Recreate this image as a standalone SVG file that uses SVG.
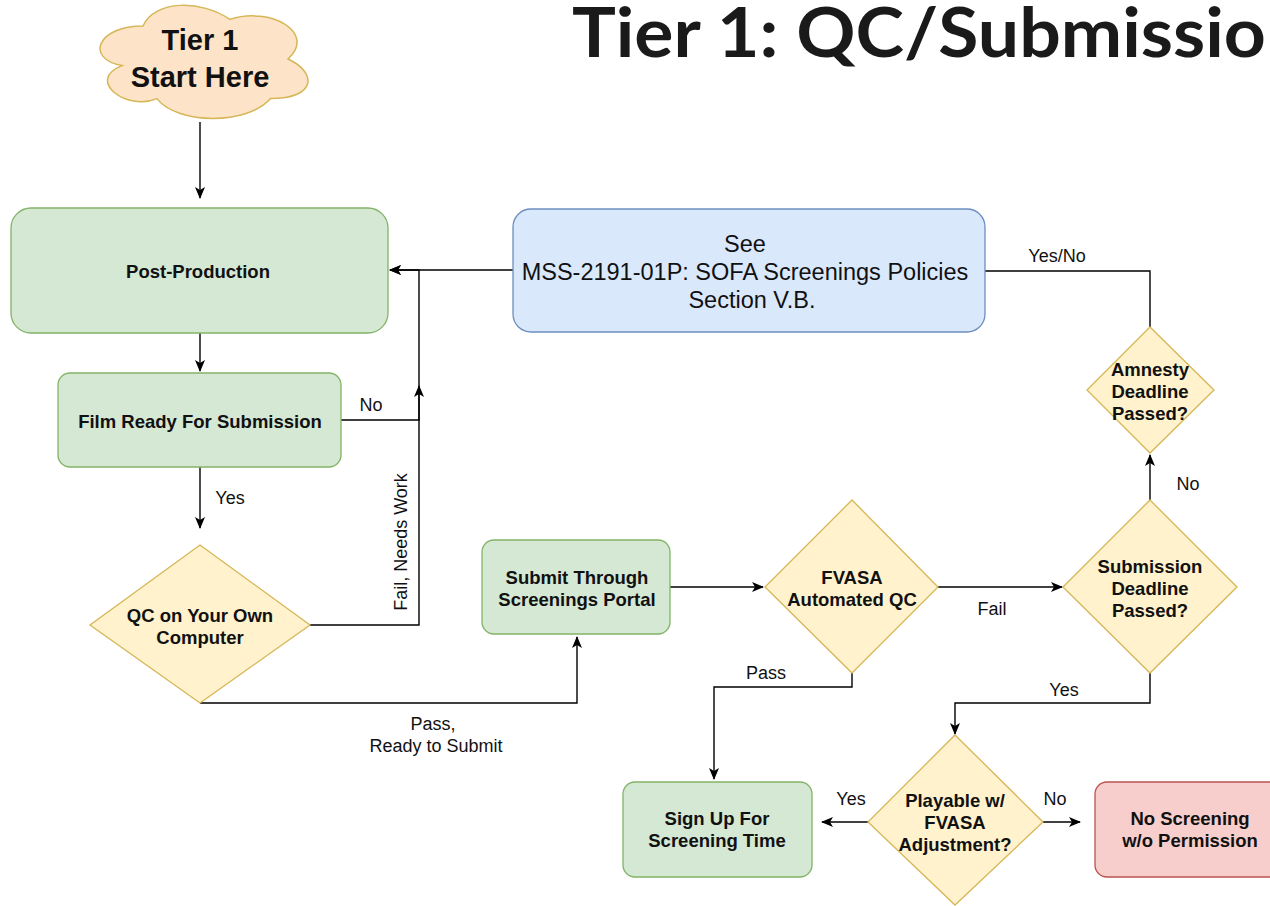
<svg xmlns="http://www.w3.org/2000/svg" width="1270" height="906" viewBox="0 0 1270 906">
<style>
.green{fill:#d5e8d4;stroke:#82b366;stroke-width:1.3}
.blue{fill:#dae8fc;stroke:#6c8ebf;stroke-width:1.3}
.red{fill:#f8cecc;stroke:#b85450;stroke-width:1.3}
.dia{fill:#fff2cc;stroke:#d6b656;stroke-width:1.3}
.cloud{fill:#fde4c8;stroke:#d6b656;stroke-width:1.5}
.t{font-family:"Liberation Sans",Arial,sans-serif;font-weight:bold;font-size:18.5px;fill:#111;text-anchor:middle;dominant-baseline:central}
.lbl{font-family:"Liberation Sans",Arial,sans-serif;font-size:18px;fill:#111;text-anchor:middle;dominant-baseline:central}
.c{fill:none;stroke:#000;stroke-width:1.4}
</style>
<defs>
<marker id="arr" markerWidth="13" markerHeight="13" refX="11" refY="6.5" orient="auto" markerUnits="userSpaceOnUse">
<path d="M0,1.5 L12,6.5 L0,11.5 L3,6.5 Z" fill="#000"/>
</marker>
</defs>
<text x="572" y="57" font-family="Lato,'Open Sans',sans-serif" font-weight="700" font-size="68" fill="#1a1a1a" textLength="694" lengthAdjust="spacingAndGlyphs">Tier 1: QC/Submissio</text>
<g id="connectors">
<path class="c" d="M200,122 V198" marker-end="url(#arr)"/>
<path class="c" d="M200,333 V371" marker-end="url(#arr)"/>
<path class="c" d="M200,467 V528" marker-end="url(#arr)"/>
<path class="c" d="M341,420 H419 V270 H390" marker-end="url(#arr)"/>
<path class="c" d="M513,270 H390" marker-end="url(#arr)"/>
<path class="c" d="M310,625 H419 V386" marker-end="url(#arr)"/>
<path class="c" d="M200,703 H577 V637" marker-end="url(#arr)"/>
<path class="c" d="M670,587 H763" marker-end="url(#arr)"/>
<path class="c" d="M938,587 H1062" marker-end="url(#arr)"/>
<path class="c" d="M1150,500 V455" marker-end="url(#arr)"/>
<path class="c" d="M1150,327 V271 H985"/>
<path class="c" d="M852,673 V687 H714 V779" marker-end="url(#arr)"/>
<path class="c" d="M1150,673 V703 H955 V734" marker-end="url(#arr)"/>
<path class="c" d="M868,822 H822" marker-end="url(#arr)"/>
<path class="c" d="M1043,822 H1080" marker-end="url(#arr)"/>
<text class="lbl" x="371" y="405">No</text>
<text class="lbl" x="230" y="498">Yes</text>
<text class="lbl" transform="translate(401,542) rotate(-90)">Fail, Needs Work</text>
<text class="lbl" x="433" y="724">Pass,</text>
<text class="lbl" x="436" y="746">Ready to Submit</text>
<text class="lbl" x="992" y="609">Fail</text>
<text class="lbl" x="1188" y="484">No</text>
<text class="lbl" x="1057" y="256">Yes/No</text>
<text class="lbl" x="766" y="673">Pass</text>
<text class="lbl" x="1064" y="690">Yes</text>
<text class="lbl" x="851" y="799">Yes</text>
<text class="lbl" x="1055" y="799">No</text>
</g>
<g id="start">
<path class="cloud" d="M143,26 C96.6,26 85,59 122.1,65.6 C85,80.1 126.8,111.8 156.9,98.6 C177.8,125 247.4,125 270.6,98.6 C317,98.6 317,72.2 288,59 C317,32.6 270.6,6.2 230,19.4 C201,-0.4 154.6,-0.4 143,26 Z"/>
<text class="t" x="200" y="40" style="font-size:29px">Tier 1</text>
<text class="t" x="200" y="77" style="font-size:29px">Start Here</text>
</g>
<g id="post-production">
<rect class="green" x="11" y="208" width="377" height="125" rx="20"/>
<text class="t" x="198" y="271">Post-Production</text>
</g>
<g id="film-ready">
<rect class="green" x="58" y="373" width="283" height="94" rx="12"/>
<text class="t" x="200" y="421">Film Ready For Submission</text>
</g>
<g id="qc-own">
<polygon class="dia" points="200,545 310,625 200,703 90,625"/>
<text class="t" x="200" y="615">QC on Your Own</text>
<text class="t" x="200" y="637">Computer</text>
</g>
<g id="submit">
<rect class="green" x="482" y="540" width="188" height="94" rx="12"/>
<text class="t" x="577" y="577">Submit Through</text>
<text class="t" x="577" y="599">Screenings Portal</text>
</g>
<g id="fvasa-qc">
<polygon class="dia" points="852,500 938,587 852,673 765,587"/>
<text class="t" x="852" y="577">FVASA</text>
<text class="t" x="852" y="599">Automated QC</text>
</g>
<g id="submission-deadline">
<polygon class="dia" points="1150,500 1237,587 1150,673 1063,587"/>
<text class="t" x="1150" y="566">Submission</text>
<text class="t" x="1150" y="588">Deadline</text>
<text class="t" x="1150" y="610">Passed?</text>
</g>
<g id="amnesty-deadline">
<polygon class="dia" points="1150,327 1214,390 1150,453 1087,390"/>
<text class="t" x="1150" y="369">Amnesty</text>
<text class="t" x="1150" y="391">Deadline</text>
<text class="t" x="1150" y="413">Passed?</text>
</g>
<g id="policies">
<rect class="blue" x="513" y="209" width="472" height="123" rx="18"/>
<text class="lbl" x="745" y="244" style="font-size:23.5px">See</text>
<text class="lbl" x="745" y="272" style="font-size:23.5px">MSS-2191-01P: SOFA Screenings Policies</text>
<text class="lbl" x="752" y="300" style="font-size:23.5px">Section V.B.</text>
</g>
<g id="playable">
<polygon class="dia" points="955,735 1043,822 955,905 868,822"/>
<text class="t" x="955" y="800">Playable w/</text>
<text class="t" x="955" y="822">FVASA</text>
<text class="t" x="955" y="844">Adjustment?</text>
</g>
<g id="sign-up">
<rect class="green" x="623" y="782" width="189" height="95" rx="12"/>
<text class="t" x="717" y="818">Sign Up For</text>
<text class="t" x="717" y="840">Screening Time</text>
</g>
<g id="no-screening">
<rect class="red" x="1095" y="782" width="200" height="95" rx="12"/>
<text class="t" x="1190" y="818">No Screening</text>
<text class="t" x="1190" y="840">w/o Permission</text>
</g>
</svg>
